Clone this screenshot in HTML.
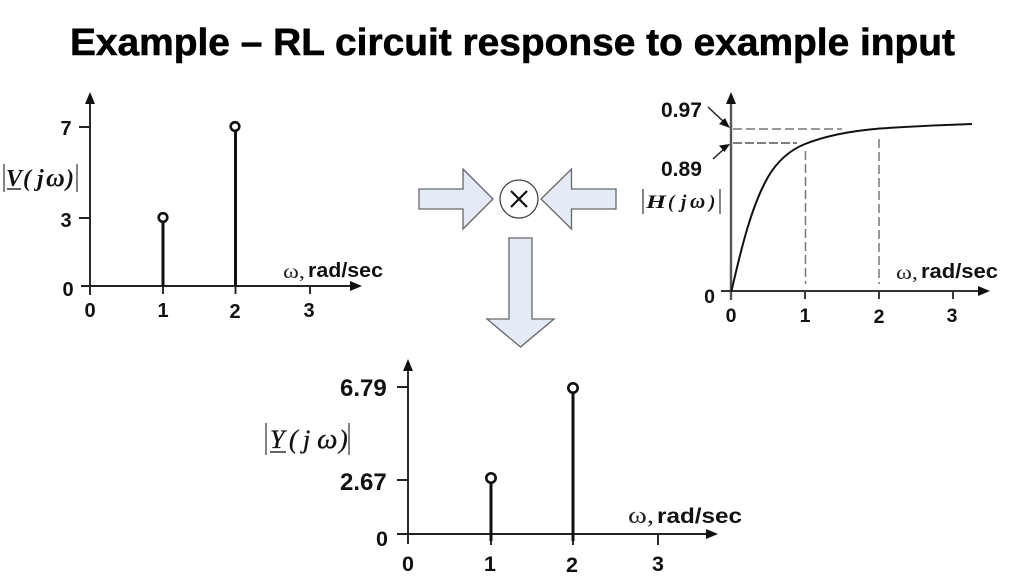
<!DOCTYPE html>
<html><head><meta charset="utf-8"><style>
html,body{margin:0;padding:0;background:#fff;width:1024px;height:576px;overflow:hidden}
svg{display:block}
text{font-family:"Liberation Sans",sans-serif;font-weight:bold;fill:#111}
.c{text-anchor:middle}
.w{font-family:"Liberation Serif",serif;font-weight:normal;fill:#222}
.m{font-family:"Liberation Serif",serif;font-style:italic;font-weight:bold;fill:#111}
.r{font-family:"Liberation Serif",serif;font-style:italic;font-weight:normal;fill:#111;stroke:#111;stroke-width:.35}
</style></head><body>
<svg width="1024" height="576" viewBox="0 0 1024 576" xmlns="http://www.w3.org/2000/svg">
<text x="70" y="55" font-size="38" style="fill:#000;stroke:#000;stroke-width:.6" textLength="885" lengthAdjust="spacingAndGlyphs">Example – RL circuit response to example input</text>

<!-- Chart 1 -->
<path d="M90 295V100M81 286H352M79 127H90M79 218H90M163 286V294M235.500 286V294M310 286V294" stroke="#222" stroke-width="1.900" fill="none"/>
<path d="M90 92l-5 12h10zM362 286l-12-5v10z" fill="#111"/>
<path d="M163 221V286M235.500 130V286" stroke="#111" stroke-width="3"/>
<circle cx="163" cy="217.500" r="4.300" fill="#fff" stroke="#111" stroke-width="2.600"/>
<circle cx="235" cy="126.500" r="4.300" fill="#fff" stroke="#111" stroke-width="2.600"/>
<g font-size="20">
<text class="c" x="66" y="135">7</text><text class="c" x="66" y="227">3</text><text class="c" x="68" y="296">0</text>
<text class="c" x="90" y="317">0</text><text class="c" x="163" y="317">1</text><text class="c" x="235" y="318">2</text><text class="c" x="309" y="317">3</text>
</g>
<text class="w" x="283" y="278" font-size="20" textLength="22" lengthAdjust="spacingAndGlyphs">ω,</text>
<text x="308" y="277" font-size="20" textLength="75" lengthAdjust="spacingAndGlyphs">rad/sec</text>
<path d="M4 164V192M77 164V192" stroke="#333" stroke-width="1.200"/>
<text class="m" y="186" font-size="24"><tspan x="6">V</tspan><tspan x="23">(</tspan><tspan x="37">j</tspan><tspan x="46" font-size="26">ω</tspan><tspan x="66">)</tspan></text>
<path d="M7 189H21" stroke="#222" stroke-width="1.400"/>

<!-- Chart 2 -->
<g fill="none">
<path d="M731 300V100" stroke="#555" stroke-width="2.400"/>
<path d="M721 291H980M805 291V299M879 291V299M953 291V299" stroke="#333" stroke-width="1.900"/>
<path d="M733 129H842M805.500 151V284M879 139V284" stroke="#777" stroke-width="1.500" stroke-dasharray="9 4"/>
<path d="M733 143H797" stroke="#333" stroke-width="1.300" stroke-dasharray="9 3"/>
<path d="M731.500 291C742 245 752 205 768 177C778 160 790 150 805 144C825 136 850 131 880 128.500C910 126.500 940 125 972 124" stroke="#111" stroke-width="2"/>
<path d="M708 107L724 122M713 159L724 149" stroke="#222" stroke-width="1.500"/>
</g>
<path d="M731 92l-5 12h10zM990 291l-12-5v10zM730 128l-11-4 6-6zM730 144l-11 1.500 5.500 6.500z" fill="#111"/>
<text x="661" y="117" font-size="21">0.97</text>
<text x="661" y="176" font-size="21">0.89</text>
<g font-size="19.500">
<text class="c" x="709.500" y="303">0</text>
<text class="c" x="731" y="322">0</text><text class="c" x="805" y="322">1</text><text class="c" x="879" y="323">2</text><text class="c" x="952" y="322">3</text>
</g>
<text class="w" x="896" y="279" font-size="20" textLength="22" lengthAdjust="spacingAndGlyphs">ω,</text>
<text x="921" y="278" font-size="20" textLength="77" lengthAdjust="spacingAndGlyphs">rad/sec</text>
<path d="M643 189V214M720 189V214" stroke="#333" stroke-width="1.200"/>
<text class="m" x="646" y="208" font-size="19" textLength="20" lengthAdjust="spacingAndGlyphs">H</text>
<text class="m" y="208" font-size="19"><tspan x="668">(</tspan><tspan x="681">j</tspan><tspan x="690" font-size="21">ω</tspan><tspan x="709">)</tspan></text>

<!-- Operators -->
<g fill="#e4ebf6" stroke="#666" stroke-width="1.300">
<path d="M419 189H463V169L493 199L463 229V209H419Z"/>
<path d="M616 189H571.500V169L541 199L571.500 229V209H616Z"/>
<path d="M509 238H532V319H554L520.500 347L487 319H509Z"/>
</g>
<circle cx="519" cy="199" r="19" fill="#fff" stroke="#444" stroke-width="1.300"/>
<path d="M511 191L527 207M527 191L511 207" stroke="#111" stroke-width="2.200"/>

<!-- Chart 3 -->
<path d="M408 544V367M397 534H708M397 387H408M397 480H408M491 534V545M573 534V545M658 534V545" stroke="#222" stroke-width="1.900" fill="none"/>
<path d="M408 359l-5 12h10zM718 534l-12-5v10z" fill="#111"/>
<path d="M491 482V541M573 392V541" stroke="#111" stroke-width="3"/>
<circle cx="491" cy="478" r="4.700" fill="#fff" stroke="#111" stroke-width="2.600"/>
<circle cx="573" cy="388" r="4.700" fill="#fff" stroke="#111" stroke-width="2.600"/>
<text x="340" y="396" font-size="24">6.79</text>
<text x="340" y="490" font-size="24">2.67</text>
<g font-size="21.500">
<text class="c" x="382" y="546">0</text>
<text class="c" x="408" y="571">0</text><text class="c" x="490" y="571">1</text><text class="c" x="572" y="572">2</text><text class="c" x="658" y="571">3</text>
</g>
<text class="w" x="628" y="523" font-size="23" textLength="26" lengthAdjust="spacingAndGlyphs">ω,</text>
<text x="657" y="523" font-size="21" textLength="85" lengthAdjust="spacingAndGlyphs">rad/sec</text>
<path d="M266 423V455M349 423V455" stroke="#333" stroke-width="1.200"/>
<text class="r" y="448" font-size="26"><tspan x="270">Y</tspan><tspan x="289">(</tspan><tspan x="303">j</tspan><tspan x="317" font-size="29">ω</tspan><tspan x="339">)</tspan></text>
<path d="M270 452H286" stroke="#222" stroke-width="1.400"/>
</svg>
</body></html>
